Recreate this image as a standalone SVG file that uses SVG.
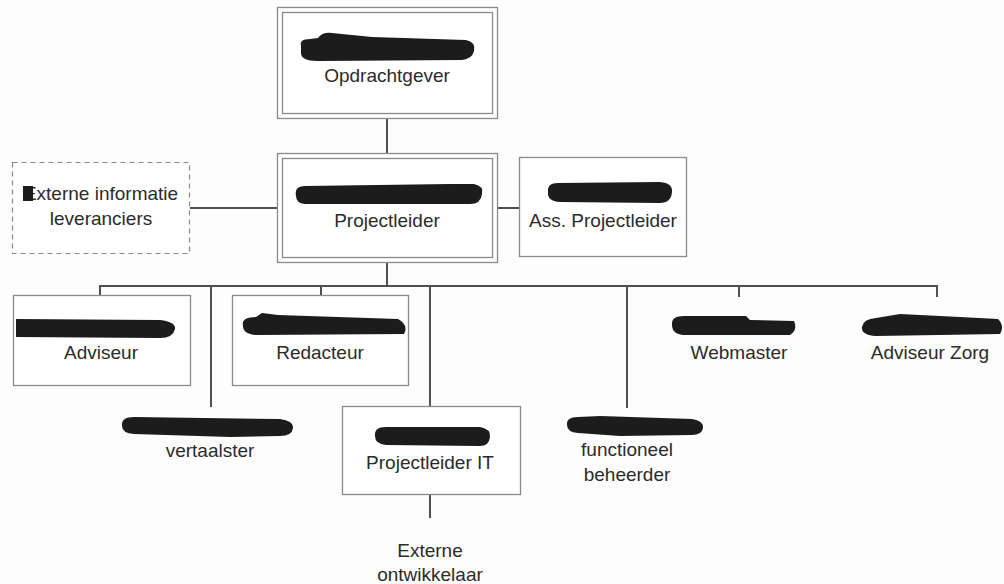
<svg xmlns="http://www.w3.org/2000/svg" width="1004" height="584" viewBox="0 0 1004 584">
<style>
.bg{fill:#fdfdfd}
.box{fill:#ffffff;stroke:#8a8a8a;stroke-width:1.3}
.dash{fill:#ffffff;stroke:#8a8a8a;stroke-width:1.2;stroke-dasharray:5 4}
.conn{fill:none;stroke:#505050;stroke-width:2}
.t{font-family:"Liberation Sans",Arial,sans-serif;font-size:19px;fill:#2b2b2b;text-anchor:middle}
.blob{fill:#1c1c1c}
</style>
<rect class="bg" x="0" y="0" width="1004" height="584"/>
<g id="connectors">
<line class="conn" x1="387" y1="118" x2="387" y2="153"/>
<line class="conn" x1="190" y1="208" x2="277" y2="208"/>
<line class="conn" x1="497" y1="208" x2="519" y2="208"/>
<line class="conn" x1="387" y1="263" x2="387" y2="286"/>
<line class="conn" x1="100" y1="286" x2="938" y2="286"/>
<line class="conn" x1="100" y1="285" x2="100" y2="296"/>
<line class="conn" x1="211" y1="285" x2="211" y2="407"/>
<line class="conn" x1="321" y1="285" x2="321" y2="296"/>
<line class="conn" x1="430" y1="285" x2="430" y2="406"/>
<line class="conn" x1="627" y1="285" x2="627" y2="408"/>
<line class="conn" x1="739" y1="285" x2="739" y2="297"/>
<line class="conn" x1="937" y1="285" x2="937" y2="297"/>
<line class="conn" x1="430" y1="495" x2="430" y2="518"/>
</g>
<g id="opdrachtgever">
<rect class="box" x="277.5" y="7.5" width="220" height="111"/>
<rect class="box" x="282.5" y="12.5" width="210" height="101"/>
<path class="blob" d="M301 46 Q299 39 310 39 L318 38 Q322 32 332 33 L372 37 L466 40 Q476 42 474 51 Q472 59 462 60 L318 61 Q300 61 301 52 Z"/>
<text class="t" x="387" y="82">Opdrachtgever</text>
</g>
<g id="externe-info">
<rect class="dash" x="12.5" y="162.5" width="177" height="91"/>
<text class="t" x="101" y="200">Externe informatie</text>
<rect class="blob" x="23" y="186" width="10" height="15"/>
<text class="t" x="101" y="225">leveranciers</text>
</g>
<g id="projectleider">
<rect class="box" x="277.5" y="153.5" width="220" height="109"/>
<rect class="box" x="282.5" y="158.5" width="210" height="99"/>
<path class="blob" d="M296 196 Q294 186 305 186 L450 184 L474 184 Q484 186 482 194 Q481 204 470 204 L305 204 Q296 203 296 196 Z"/>
<text class="t" x="387" y="227">Projectleider</text>
</g>
<g id="ass-projectleider">
<rect class="box" x="519.5" y="157.5" width="167" height="99"/>
<path class="blob" d="M548 192 Q547 183 558 183 L660 182 Q673 183 672 192 Q671 203 660 203 L560 202 Q547 201 548 192 Z"/>
<text class="t" x="603" y="227">Ass. Projectleider</text>
</g>
<g id="adviseur">
<rect class="box" x="13.5" y="295.5" width="177" height="90"/>
<path class="blob" d="M16 319 L160 320 Q176 322 175 329 Q173 338 160 338 L16 337 Z"/>
<text class="t" x="101" y="359">Adviseur</text>
</g>
<g id="redacteur">
<rect class="box" x="232.5" y="295.5" width="176" height="90"/>
<path class="blob" d="M243 326 Q241 317 256 317 L262 313 L278 315 L398 319 Q409 325 404 334 L256 335 Q243 334 243 326 Z"/>
<text class="t" x="320" y="359">Redacteur</text>
</g>
<g id="webmaster">
<path class="blob" d="M672 325 Q671 316 684 316 L746 316 L750 320 L794 321 Q798 330 790 335 L684 335 Q672 334 672 325 Z"/>
<text class="t" x="739" y="359">Webmaster</text>
</g>
<g id="adviseur-zorg">
<path class="blob" d="M862 327 Q863 319 876 318 L900 314 L960 317 L998 319 Q1005 326 1000 334 L876 336 Q861 335 862 327 Z"/>
<text class="t" x="930" y="359">Adviseur Zorg</text>
</g>
<g id="vertaalster">
<path class="blob" d="M122 426 Q121 417 134 417 L280 419 Q294 421 293 428 Q292 436 280 436 L230 437 L134 434 Q122 433 122 426 Z"/>
<text class="t" x="210" y="457">vertaalster</text>
</g>
<g id="projectleider-it">
<rect class="box" x="342.5" y="406.5" width="178" height="88"/>
<path class="blob" d="M375 436 Q374 427 386 427 L480 427 Q491 429 490 437 Q489 446 480 446 L386 445 Q375 444 375 436 Z"/>
<text class="t" x="430" y="469">Projectleider IT</text>
</g>
<g id="functioneel-beheerder">
<path class="blob" d="M567 425 Q566 417 578 417 L600 416 L692 419 Q704 421 703 428 Q702 435 692 435 L620 436 L578 433 Q567 432 567 425 Z"/>
<text class="t" x="627" y="456">functioneel</text>
<text class="t" x="627" y="481">beheerder</text>
</g>
<g id="externe-ontwikkelaar">
<text class="t" x="430" y="557">Externe</text>
<text class="t" x="430" y="581">ontwikkelaar</text>
</g>
</svg>
